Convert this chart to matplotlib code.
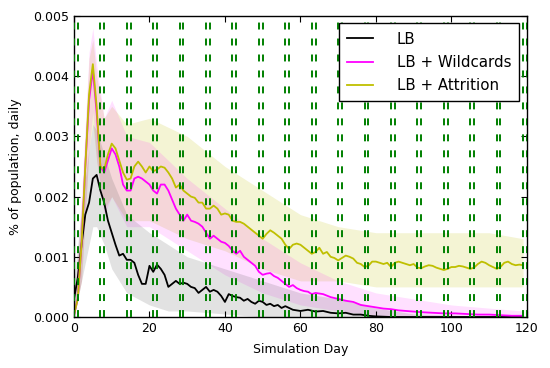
import matplotlib
matplotlib.use('Agg')
import matplotlib.pyplot as plt
import numpy as np

plt.rcParams.update({
    "font.family": "DejaVu Sans",
    "font.size": 9,
    "lines.scale_dashes": False,
})

# mean curves
lb_days = [0, 1, 2, 3, 4, 5, 6, 7, 8, 9, 10, 11, 12, 13, 14, 15, 16, 17, 18, 19,
           20, 21, 22, 23, 24, 25, 26, 27, 28, 29, 30, 31, 32, 33, 34, 35, 36, 37,
           38, 39, 40, 41, 42, 43, 44, 45, 46, 47, 48, 49, 50, 51, 52, 53, 54, 55,
           56, 57, 58, 60, 62, 64, 66, 68, 70, 72, 74, 76, 78, 80, 84, 90, 100, 110, 119]
lb_vals = [0.00030, 0.00065, 0.0012, 0.0017, 0.0019, 0.0023, 0.00236, 0.0021, 0.0019,
           0.0016, 0.0014, 0.0012, 0.00102, 0.00105, 0.00095, 0.00095, 0.0009, 0.0007,
           0.00055, 0.00055, 0.00085, 0.00075, 0.00087, 0.0008, 0.0007, 0.0005, 0.00055,
           0.0006, 0.00055, 0.00057, 0.00055, 0.0005, 0.00048, 0.0004, 0.00045, 0.0005,
           0.00042, 0.00045, 0.00042, 0.00035, 0.00025, 0.00038, 0.00035, 0.00033,
           0.00032, 0.00027, 0.0003, 0.00025, 0.00022, 0.00027, 0.00025, 0.0002,
           0.00022, 0.00018, 0.0002, 0.00015, 0.00018, 0.00015, 0.00012, 0.0001,
           0.00012, 0.00009, 0.0001, 0.00007, 0.00006, 0.00007, 0.00004, 0.00004,
           0.00002, 0.00001, 0.0, 0.0, 0.0, 0.0, 0.0]

wc_days = list(range(0, 65)) + [66, 68, 70, 72, 74, 76, 78, 80, 82, 84, 86, 88, 90, 92,
                                95, 98, 101, 104, 107, 110, 113, 116, 119]
wc_vals = [0.00003, 0.0003, 0.0012, 0.0025, 0.0036, 0.0041, 0.0034, 0.0025, 0.0024,
           0.0026, 0.0028, 0.0027, 0.0025, 0.0022, 0.0021, 0.0021, 0.0023, 0.00233,
           0.0023, 0.00225, 0.0022, 0.0021, 0.00205, 0.0022, 0.0022, 0.0021, 0.00195,
           0.0018, 0.0017, 0.0016, 0.0017, 0.0016, 0.00158, 0.00155, 0.0015, 0.0014,
           0.0013, 0.00135, 0.0013, 0.00125, 0.00123, 0.00118, 0.0011, 0.00105, 0.0011,
           0.001, 0.00095, 0.0009, 0.00085, 0.00075, 0.0007, 0.00072, 0.00073, 0.00068,
           0.00065, 0.0006, 0.00055, 0.0005, 0.00053, 0.00048, 0.00045, 0.00043,
           0.00042, 0.00038, 0.0004,
           0.00038, 0.00033, 0.0003, 0.00027, 0.00025, 0.0002, 0.00018, 0.00016,
           0.00014, 0.00013, 0.00011, 0.0001, 0.00009, 0.00008, 0.00007, 0.00006,
           0.00006, 0.00005, 0.00004, 0.00004, 0.00003, 0.00002, 0.00002]

at_days = list(range(0, 120))
at_vals = [0.00003, 0.0003, 0.0012, 0.0025, 0.0037, 0.0042, 0.0035, 0.0025, 0.00245,
           0.0027, 0.00288, 0.0028, 0.0026, 0.0024, 0.00228, 0.0023, 0.0025, 0.00258,
           0.0025, 0.0024, 0.0025, 0.00242, 0.00245, 0.0025, 0.00248, 0.0024, 0.0023,
           0.00215, 0.0022, 0.0021, 0.00205, 0.002, 0.00198, 0.0019, 0.0019, 0.0018,
           0.0018, 0.00185, 0.0018, 0.0017, 0.00172, 0.0017, 0.0016, 0.00158, 0.00158,
           0.00155, 0.0015, 0.00145, 0.0014, 0.00135, 0.0013, 0.00138, 0.00144, 0.0014,
           0.00135, 0.0013, 0.0012, 0.00113, 0.0012, 0.00122, 0.0012, 0.00115, 0.0011,
           0.00105, 0.00108, 0.00115, 0.00105, 0.00108, 0.001, 0.00098, 0.00094,
           0.00098, 0.00102, 0.001, 0.00097, 0.0009, 0.00088, 0.00083, 0.00085,
           0.00092, 0.00092, 0.0009, 0.00088, 0.0009, 0.00083, 0.0009, 0.00092, 0.0009,
           0.00088, 0.00086, 0.00088, 0.00082, 0.00081, 0.00084, 0.00086, 0.00085,
           0.00082, 0.0008, 0.00078, 0.0008, 0.00083, 0.00083, 0.00085, 0.00084,
           0.00082, 0.0008, 0.00082, 0.00088, 0.00092, 0.0009, 0.00086, 0.00083, 0.0008,
           0.00083, 0.0009, 0.00092, 0.00088, 0.00086, 0.00087, 0.00086]

# spread of the individual runs (rough envelopes)
lb_band_days = [0, 2, 4, 5, 6, 8, 10, 14, 20, 25, 30, 40, 50, 60, 70, 80, 90, 119]
lb_band_hi = [0.0006, 0.0018, 0.0028, 0.0032, 0.0031, 0.0027, 0.0023, 0.0017, 0.0014,
              0.0012, 0.0010, 0.0008, 0.0006, 0.0004, 0.0003, 0.00015, 0.00005, 0.0]
lb_band_lo = [0.0, 0.0006, 0.0012, 0.0015, 0.0015, 0.0012, 0.0008, 0.0004, 0.0002,
              0.0001, 0.0001, 0.00005, 0.0, 0.0, 0.0, 0.0, 0.0, 0.0]

wc_band_days = [0, 2, 4, 5, 6, 8, 10, 14, 20, 30, 40, 50, 60, 70, 80, 90, 100, 119]
wc_band_hi = [0.0001, 0.002, 0.0044, 0.0048, 0.0042, 0.0033, 0.0036, 0.0030, 0.0029,
              0.0023, 0.0018, 0.0013, 0.0009, 0.0006, 0.0004, 0.0003, 0.0002, 0.0001]
wc_band_lo = [0.0, 0.0006, 0.0028, 0.0034, 0.0026, 0.0017, 0.0020, 0.0015, 0.0015,
              0.0011, 0.0007, 0.0004, 0.0002, 0.0001, 0.00003, 0.0, 0.0, 0.0]

at_band_days = [0, 2, 4, 5, 6, 8, 10, 14, 20, 30, 40, 50, 60, 70, 80, 90, 100, 110, 119]
at_band_hi = [0.0001, 0.0018, 0.0043, 0.0046, 0.004, 0.0033, 0.0035, 0.0032, 0.0033,
              0.003, 0.0025, 0.0021, 0.0017, 0.0015, 0.0014, 0.0014, 0.0014, 0.0014, 0.0013]
at_band_lo = [0.0, 0.0006, 0.0028, 0.0032, 0.0026, 0.0018, 0.002, 0.0016, 0.0016,
              0.0013, 0.0011, 0.0008, 0.0006, 0.0006, 0.0005, 0.0005, 0.0005, 0.0005, 0.0005]

# weekly marker days (pairs)
week_days = [d for k in range(18) for d in (7 * k, 7 * k + 1)]

fig = plt.figure(figsize=(5.5, 3.68), dpi=100, facecolor='white')
ax = fig.add_axes([0.1345, 0.1386, 0.8235, 0.818])

ax.fill_between(at_band_days, at_band_lo, at_band_hi, color='#bfbf00', alpha=0.17, lw=0)
ax.fill_between(wc_band_days, wc_band_lo, wc_band_hi, color='#ff00ff', alpha=0.12, lw=0)
ax.fill_between(lb_band_days, lb_band_lo, lb_band_hi, color='#555555', alpha=0.17, lw=0)

ax.plot(lb_days, lb_vals, color='k', lw=1.3, label='LB')
ax.plot(wc_days, wc_vals, color='#ff00ff', lw=1.3, label='LB + Wildcards')
ax.plot(at_days, at_vals, color='#bfbf00', lw=1.3, label='LB + Attrition')

for d in week_days:
    ax.axvline(d, color='#008000', lw=1.4, dashes=(5, 6.5), zorder=3)

ax.set_xlim(0, 120)
ax.set_ylim(0, 0.005)
ax.set_xticks(np.arange(0, 121, 20))
ax.set_yticks(np.arange(0, 0.0051, 0.001))
ax.set_yticklabels(['%.3f' % v for v in np.arange(0, 0.0051, 0.001)])
ax.tick_params(direction='in', top=True, right=True, length=4, width=0.8, labelsize=9)
for s in ax.spines.values():
    s.set_linewidth(1.0)
    s.set_color('k')

ax.set_xlabel('Simulation Day', fontsize=9, labelpad=6)
ax.set_ylabel('% of population, daily', fontsize=9, labelpad=8)

leg = ax.legend(loc='upper right', fontsize=10.8, fancybox=False, framealpha=1,
                edgecolor='k', handlelength=1.7, handletextpad=1.6, borderpad=0.55,
                labelspacing=0.55, borderaxespad=0.5)
leg.get_frame().set_linewidth(1.0)
leg.set_zorder(5)

fig.savefig('out.png', dpi=100, facecolor='white')
